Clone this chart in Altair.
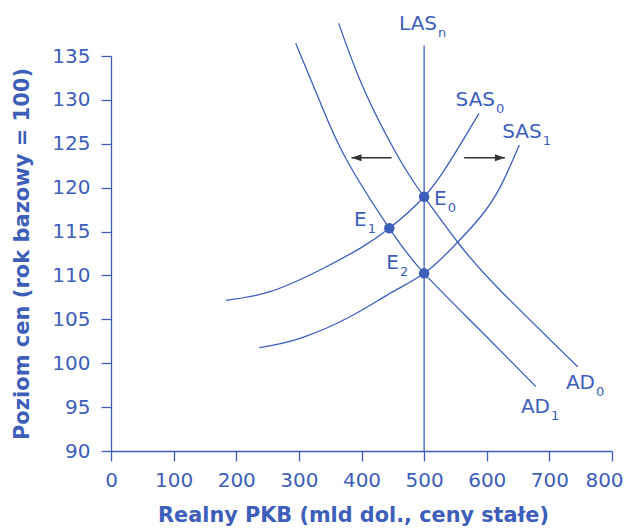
import altair as alt
import pandas as pd

BLUE = "#3d5eb9"
DARK = "#333333"
FONT = "DejaVu Sans"

ad0_x = [363.6, 405.6, 461.5, 499.8, 553.0, 615.9, 745.2]
ad0_y = [138.72, 130.93, 123.15, 118.97, 113.84, 108.72, 99.6]

ad1_x = [294.9, 333.7, 376.4, 444.4, 500.0, 589.2, 678.6]
ad1_y = [136.45, 129.79, 123.15, 115.37, 110.24, 103.78, 97.33]

sas0_x = [183.6, 253.9, 333.7, 397.6, 444.4, 500.0, 541.3, 587.6]
sas0_y = [107.17, 108.15, 110.62, 113.09, 115.37, 118.97, 123.0, 128.47]

sas1_x = [236.8, 301.8, 381.6, 445.5, 500.0, 546.6, 589.2, 621.2, 652.0]
sas1_y = [101.77, 102.84, 105.3, 107.96, 110.24, 113.27, 116.6, 120.03, 124.85]

las_x = [500, 500]
las_y = [90, 136.2]

# Equilibrium points
eq_x = [500.0, 444.4, 500.0]
eq_y = [118.97, 115.37, 110.24]

# Labels: main text, subscript, anchor (right edge of main text)
lab_main = ["LAS", "SAS", "SAS", "E", "E", "E", "AD", "AD"]
lab_sub = ["n", "0", "1", "0", "1", "2", "0", "1"]
lab_x = [520.6, 613.2, 687.7, 536.0, 408.3, 459.9, 772.9, 701.0]
lab_y = [138.64, 129.99, 126.37, 118.73, 116.28, 111.38, 97.8, 94.96]

# Shift arrows (tail x, tip x, y)
arr_tail = [448.0, 564.0]
arr_tip = [384.0, 629.0]
arr_y = [123.41, 123.41]
arr_dir = ["left", "right"]

x_ticks = list(range(0, 801, 100))
y_ticks = list(range(90, 136, 5))

rows = []
for name, xs_, ys_ in [("AD0", ad0_x, ad0_y), ("AD1", ad1_x, ad1_y),
                       ("SAS0", sas0_x, sas0_y), ("SAS1", sas1_x, sas1_y),
                       ("LAS", las_x, las_y)]:
    for i, (a, b) in enumerate(zip(xs_, ys_)):
        rows.append({"curve": name, "x": a, "y": b, "o": i})
curves = pd.DataFrame(rows)

eq = pd.DataFrame({"x": eq_x, "y": eq_y})
labels = pd.DataFrame({"main": lab_main, "sub": lab_sub, "x": lab_x, "y": lab_y})
arrows = pd.DataFrame({"x": arr_tail, "x2": arr_tip, "y": arr_y, "dir": arr_dir})

xs = alt.Scale(domain=[0, 800], nice=False, zero=False)
ys = alt.Scale(domain=[90, 135], nice=False, zero=False)

xax = alt.Axis(values=x_ticks, title="Realny PKB (mld dol., ceny stałe)",
               grid=False, tickSize=10, labelPadding=9, titlePadding=15,
               labelFlush=False,
               labelOffset=alt.ExprRef(expr="datum.value == 800 ? -8 : 0"),
               titleX=242, titleAlign="center", titleAnchor="start",
               domainColor=BLUE, tickColor=BLUE, labelColor=BLUE, titleColor=BLUE,
               labelFont=FONT, titleFont=FONT, labelFontSize=20, titleFontSize=20.8,
               titleFontWeight="bold", domainWidth=1.3, tickWidth=1.3)
yax = alt.Axis(values=y_ticks, title="Poziom cen (rok bazowy = 100)",
               grid=False, tickSize=10, labelPadding=11, titlePadding=19,
               labelFlush=False,
               domainColor=BLUE, tickColor=BLUE, labelColor=BLUE, titleColor=BLUE,
               labelFont=FONT, titleFont=FONT, labelFontSize=20, titleFontSize=21,
               titleFontWeight="bold", domainWidth=1.3, tickWidth=1.3)

lines = alt.Chart(curves).mark_line(color=BLUE, strokeWidth=1.3, interpolate="natural").encode(
    x=alt.X("x:Q", scale=xs, axis=xax),
    y=alt.Y("y:Q", scale=ys, axis=yax),
    detail="curve:N",
    order="o:Q",
)

dots = alt.Chart(eq).mark_point(filled=True, color=BLUE, size=110, opacity=1).encode(
    x=alt.X("x:Q", scale=xs), y=alt.Y("y:Q", scale=ys))

main_txt = alt.Chart(labels).mark_text(color=BLUE, font=FONT, fontSize=20, align="right",
                                       baseline="middle").encode(
    x=alt.X("x:Q", scale=xs), y=alt.Y("y:Q", scale=ys), text="main:N")
sub_txt = alt.Chart(labels).mark_text(color=BLUE, font=FONT, fontSize=13, align="left",
                                      baseline="middle", dx=1, dy=9).encode(
    x=alt.X("x:Q", scale=xs), y=alt.Y("y:Q", scale=ys), text="sub:N")

arr_line = alt.Chart(arrows).mark_rule(color=DARK, strokeWidth=1.5).encode(
    x=alt.X("x:Q", scale=xs), x2="x2:Q", y=alt.Y("y:Q", scale=ys))
head_l = alt.Chart(arrows[arrows["dir"] == "left"]).mark_point(
    shape="M0,0 L2,-0.7 L2,0.7 Z", filled=True, color=DARK, size=100, opacity=1).encode(
    x=alt.X("x2:Q", scale=xs), y=alt.Y("y:Q", scale=ys))
head_r = alt.Chart(arrows[arrows["dir"] == "right"]).mark_point(
    shape="M0,0 L-2,-0.7 L-2,0.7 Z", filled=True, color=DARK, size=100, opacity=1).encode(
    x=alt.X("x2:Q", scale=xs), y=alt.Y("y:Q", scale=ys))

chart = alt.layer(lines, arr_line, head_l, head_r, dots, main_txt, sub_txt).properties(
    width=501, height=395,
    autosize=alt.AutoSizeParams(type="none"),
    padding={"left": 103, "top": 48, "right": 12, "bottom": 76},
).configure(background="white").configure_view(stroke=None)

chart.save("out.html", embed_options={"renderer": "svg", "actions": False})
